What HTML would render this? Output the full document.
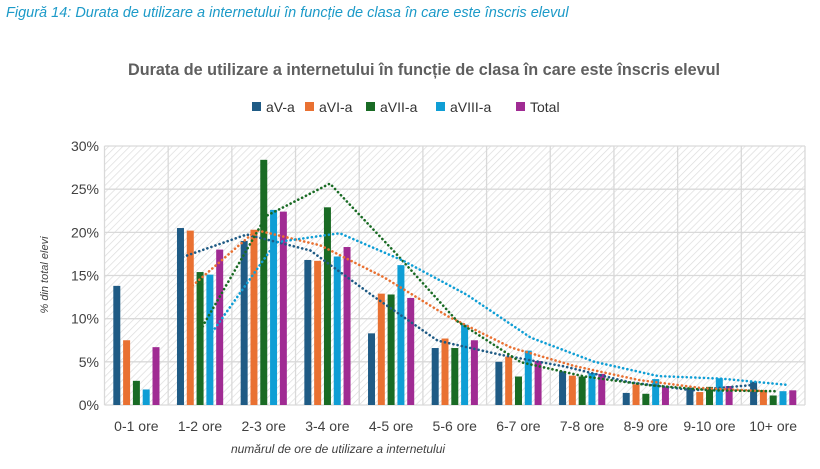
<!DOCTYPE html>
<html><head><meta charset="utf-8"><style>
body{margin:0;background:#fff;width:820px;height:464px;overflow:hidden;font-family:"Liberation Sans",sans-serif}
</style></head><body>
<svg id="s" width="820" height="464" xmlns="http://www.w3.org/2000/svg">
<defs><pattern id="h" patternUnits="userSpaceOnUse" width="5" height="5" patternTransform="rotate(45)">
<rect width="5" height="5" fill="#fff"/><line x1="0" y1="0" x2="0" y2="5" stroke="#dcdcdc" stroke-width="1.4"/></pattern></defs>
<text x="6" y="17" font-size="14.5" font-style="italic" fill="#1c9ac8">Figură 14: Durata de utilizare a internetului în funcție de clasa în care este înscris elevul</text>
<text x="424" y="75" font-size="16.2" font-weight="bold" fill="#5f5f5f" text-anchor="middle">Durata de utilizare a internetului în funcție de clasa în care este înscris elevul</text>
<rect x="104.5" y="146" width="700.5" height="259" fill="url(#h)"/>
<g id="g"></g>
</svg>
<script>
const s=document.getElementById('g');const NS='http://www.w3.org/2000/svg';
function el(t,a,txt){const e=document.createElementNS(NS,t);for(const k in a)e.setAttribute(k,a[k]);if(txt!=null)e.textContent=txt;s.appendChild(e);return e;}
const L=104.5,W=63.68,B=405,P=8.633;
for(let i=0;i<=6;i++){const y=B-i*5*P;el('line',{x1:L,x2:805,y1:y,y2:y,stroke:'#d9d9d9','stroke-width':1.3});el('text',{x:99,y:y+5,'font-size':14,fill:'#404040','text-anchor':'end'},i*5+'%');}
for(let i=0;i<=11;i++){const x=L+i*W;el('line',{x1:x,x2:x,y1:146,y2:405,stroke:'#d9d9d9','stroke-width':1.3});}
const cats=['0-1 ore','1-2 ore','2-3 ore','3-4 ore','4-5 ore','5-6 ore','6-7 ore','7-8 ore','8-9 ore','9-10 ore','10+ ore'];
const col=['#1f5b85','#e97132','#196b24','#0f9ed5','#a02b93'];
const names=['aV-a','aVI-a','aVII-a','aVIII-a','Total'];
const d=[[13.8,20.5,19.0,16.8,8.3,6.6,5.0,3.9,1.4,2.0,2.7],
[7.5,20.2,20.3,16.7,12.9,7.7,5.6,3.4,2.4,1.5,1.7],
[2.8,15.4,28.4,22.9,12.8,6.6,3.3,3.3,1.3,2.1,1.1],
[1.8,15.1,22.6,17.2,16.2,9.3,6.3,3.7,3.0,3.1,1.6],
[6.7,18.0,22.4,18.3,12.4,7.5,5.1,3.6,2.1,2.2,1.7]];
for(let c=0;c<11;c++){el('text',{x:L+W*(c+0.5),y:431,'font-size':14,fill:'#404040','text-anchor':'middle'},cats[c]);
for(let k=0;k<5;k++){const x=L+W*c+8.8+k*9.8;const h=d[k][c]*P;el('rect',{x:x,y:B-h,width:7,height:h,fill:col[k]});}}
for(let k=0;k<4;k++){let pts=[];for(let c=1;c<11;c++){const x=L+W*c+8.8+k*9.8+6;const v=(d[k][c]+d[k][c-1])/2;pts.push(x+','+(B-v*P));}
el('polyline',{points:pts.join(' '),fill:'none',stroke:col[k],'stroke-width':2.6,'stroke-dasharray':'0.1 4.2','stroke-linecap':'round'});}
let lx=[266,319,380,450,530];
for(let k=0;k<5;k++){el('rect',{x:lx[k]-14,y:102,width:9,height:9,fill:col[k]});el('text',{x:lx[k],y:112,'font-size':14,fill:'#333'},names[k]);}
el('text',{x:338,y:453,'font-size':12,'font-style':'italic',fill:'#404040','text-anchor':'middle'},'numărul de ore de utilizare a internetului');
el('text',{x:0,y:0,'font-size':11,'font-style':'italic',fill:'#404040','text-anchor':'middle',transform:'translate(48,275) rotate(-90)'},'% din total elevi');
</script>
</body></html>
